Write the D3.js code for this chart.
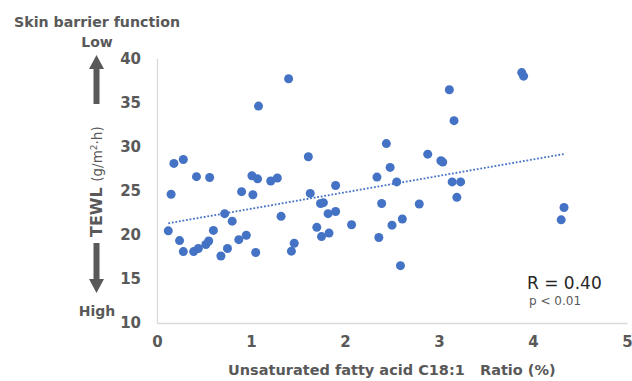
<!DOCTYPE html>
<html>
<head>
<meta charset="utf-8">
<script src="https://cdn.jsdelivr.net/npm/d3@7"></script>
<style>
  body { margin: 0; background: #fff; }
  svg { display: block; font-family: "DejaVu Sans", Verdana, sans-serif; }
</style>
</head>
<body>
<svg id="chart" width="632" height="381"></svg>
<script>
// C18:1 ratio (%)
var ratio = [0.12, 0.15, 0.18, 0.28, 0.24, 0.28, 0.39, 0.44, 0.42, 0.56,
  0.52, 0.55, 0.60, 0.68, 0.72, 0.75, 0.80, 0.87, 0.90, 0.95,
  1.01, 1.02, 1.05, 1.07, 1.08, 1.21, 1.28, 1.32, 1.40, 1.43,
  1.46, 1.61, 1.63, 1.70, 1.74, 1.77, 1.75, 1.82, 1.83, 1.90,
  1.90, 2.07, 2.34, 2.36, 2.39, 2.44, 2.48, 2.50, 2.55, 2.59,
  2.61, 2.79, 2.88, 3.02, 3.04, 3.11, 3.16, 3.14, 3.23, 3.19,
  3.88, 3.90, 4.30, 4.33];
// TEWL (g/m2.h)
var tewl = [20.45, 24.6, 28.1, 28.55, 19.35, 18.1, 18.1, 18.45, 26.6, 26.5,
  18.9, 19.3, 20.5, 17.6, 22.4, 18.45, 21.55, 19.45, 24.9, 19.95,
  26.7, 24.55, 18.0, 26.35, 34.6, 26.1, 26.45, 22.1, 37.7, 18.15,
  19.05, 28.85, 24.7, 20.85, 23.55, 23.65, 19.8, 22.4, 20.2, 25.6,
  22.65, 21.15, 26.55, 19.7, 23.55, 30.35, 27.65, 21.1, 26.0, 16.5,
  21.8, 23.5, 29.15, 28.4, 28.25, 36.45, 32.95, 26.0, 26.0, 24.25,
  38.4, 38.0, 21.7, 23.1];

var xTicks = [0, 1, 2, 3, 4, 5];
var yTicks = [10, 15, 20, 25, 30, 35, 40];

var points = ratio.map(function(r, i) { return {x: r, y: tewl[i]}; });

var svg = d3.select("#chart");
var grey = "#595959", blue = "#4472C4";

var x = d3.scaleLinear().domain([0, 5]).range([157, 627]);
var y = d3.scaleLinear().domain([10, 40]).range([323, 58.5]);

// axes
var gx = svg.append("g").attr("transform", "translate(0,323)")
  .call(d3.axisBottom(x).tickValues(xTicks).tickSize(0).tickPadding(13).tickFormat(d3.format("d")));
var gy = svg.append("g").attr("transform", "translate(157,0)")
  .call(d3.axisLeft(y).tickValues(yTicks).tickSize(0).tickPadding(16).tickFormat(d3.format("d")));

[gx, gy].forEach(function(g) {
  g.select(".domain").attr("stroke", "#d9d9d9").attr("stroke-width", 1.3);
  g.selectAll("text").attr("fill", grey).style("font-size", "15px")
    .style("font-weight", "bold").style("font-family", "DejaVu Sans, Verdana, sans-serif");
});

// trend line (least squares)
var mx = d3.mean(ratio), my = d3.mean(tewl);
var sxy = d3.sum(points, function(d) { return (d.x - mx) * (d.y - my); });
var sxx = d3.sum(points, function(d) { return (d.x - mx) * (d.x - mx); });
var slope = sxy / sxx, icpt = my - slope * mx;
var ext = d3.extent(ratio);
var trend = ext.map(function(v) { return {x: v, y: icpt + slope * v}; });

svg.append("path")
  .datum(trend)
  .attr("fill", "none")
  .attr("stroke", blue)
  .attr("stroke-width", 1.8)
  .attr("stroke-dasharray", "1.8,1.8")
  .attr("d", d3.line().x(function(d) { return x(d.x); }).y(function(d) { return y(d.y); }));

svg.append("g").selectAll("circle")
  .data(points)
  .enter().append("circle")
  .attr("cx", function(d) { return x(d.x); })
  .attr("cy", function(d) { return y(d.y); })
  .attr("r", 4.5)
  .attr("fill", blue);

// titles
svg.append("text").attr("x", 14).attr("y", 27).attr("fill", grey)
  .style("font-size", "14.2px").style("font-weight", "bold")
  .text("Skin barrier function");

svg.append("text").attr("x", 97).attr("y", 47).attr("text-anchor", "middle").attr("fill", grey)
  .style("font-size", "14px").style("font-weight", "bold").text("Low");
svg.append("text").attr("x", 97).attr("y", 316).attr("text-anchor", "middle").attr("fill", grey)
  .style("font-size", "14px").style("font-weight", "bold").text("High");

var yt = svg.append("text")
  .attr("transform", "translate(102,237) rotate(-90)")
  .attr("fill", grey);
yt.append("tspan").style("font-size", "16px").style("font-weight", "bold").text("TEWL ");
yt.append("tspan").style("font-size", "13.5px").text("(g/m");
yt.append("tspan").style("font-size", "9px").attr("dy", -5).text("2");
yt.append("tspan").style("font-size", "13.5px").attr("dy", 5).text("\u00B7h)");

// arrows
function arrow(cx, y0, y1) {
  var dir = y1 > y0 ? 1 : -1, head = 14;
  var yb = y1 - dir * head;
  var p = d3.path();
  p.moveTo(cx - 3, y0); p.lineTo(cx + 3, y0); p.lineTo(cx + 3, yb);
  p.lineTo(cx + 7.5, yb); p.lineTo(cx, y1); p.lineTo(cx - 7.5, yb);
  p.lineTo(cx - 3, yb); p.closePath();
  svg.append("path").attr("d", p.toString()).attr("fill", grey);
}
arrow(96.5, 104, 55);
arrow(96.5, 243, 293);

svg.append("text").attr("x", 228).attr("y", 375).attr("fill", grey)
  .attr("xml:space", "preserve").style("white-space", "pre")
  .style("font-size", "14.5px").style("font-weight", "bold")
  .text("Unsaturated fatty acid C18:1   Ratio (%)");

svg.append("text").attr("x", 527).attr("y", 289).attr("fill", "#262626")
  .style("font-size", "17px").text("R = 0.40");
svg.append("text").attr("x", 529).attr("y", 305).attr("fill", grey)
  .style("font-size", "12px").text("p < 0.01");
</script>
</body>
</html>
